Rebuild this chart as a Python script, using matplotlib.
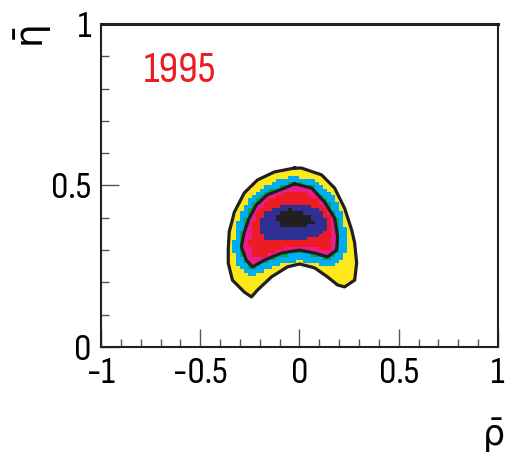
import numpy as np
from matplotlib import pyplot as plt
from matplotlib.path import Path
from matplotlib.colors import ListedColormap
from matplotlib.ticker import MultipleLocator

# contour regions of the (rho, eta) likelihood, outer to inner
yellow_rho = [-0.025, -0.126, -0.212, -0.278, -0.328, -0.354, -0.359, -0.359, -0.338, -0.278, -0.242,
              -0.212, -0.141, -0.061, 0.000, 0.076, 0.141, 0.192, 0.227, 0.278, 0.288, 0.278, 0.263,
              0.227, 0.177, 0.111, 0.010]
yellow_eta = [0.554, 0.542, 0.517, 0.477, 0.418, 0.356, 0.300, 0.260, 0.207, 0.170, 0.155,
              0.176, 0.217, 0.248, 0.257, 0.245, 0.217, 0.192, 0.186, 0.207, 0.260, 0.322, 0.362,
              0.430, 0.492, 0.533, 0.554]

cyan_rho = [-0.025, -0.091, -0.192, -0.257, -0.298, -0.323, -0.338, -0.313, -0.258, -0.172, -0.086,
            0.000, 0.081, 0.152, 0.227, 0.237, 0.222, 0.165, 0.080]
cyan_eta = [0.530, 0.520, 0.494, 0.460, 0.412, 0.359, 0.305, 0.252, 0.218, 0.238, 0.258,
            0.268, 0.258, 0.246, 0.275, 0.341, 0.412, 0.472, 0.515]

green_rho = [-0.025, -0.081, -0.172, -0.232, -0.268, -0.293, -0.308, -0.283, -0.242, -0.177, -0.091,
             0.000, 0.081, 0.146, 0.202, 0.207, 0.192, 0.141, 0.066]
green_eta = [0.514, 0.502, 0.480, 0.449, 0.406, 0.359, 0.310, 0.263, 0.238, 0.260, 0.282,
             0.291, 0.282, 0.269, 0.294, 0.341, 0.402, 0.455, 0.498]

magenta_rho = [-0.025, -0.076, -0.162, -0.217, -0.253, -0.278, -0.293, -0.268, -0.237, -0.177, -0.091,
               0.000, 0.076, 0.141, 0.187, 0.192, 0.177, 0.126, 0.061]
magenta_eta = [0.505, 0.492, 0.471, 0.440, 0.399, 0.356, 0.310, 0.269, 0.248, 0.269, 0.291,
               0.300, 0.291, 0.279, 0.300, 0.341, 0.399, 0.449, 0.492]

red_rho = [-0.051, -0.152, -0.212, -0.242, -0.253, -0.227, -0.162, -0.076, 0.000, 0.091, 0.152,
           0.167, 0.152, 0.101, 0.025]
red_eta = [0.480, 0.458, 0.420, 0.368, 0.316, 0.276, 0.282, 0.307, 0.313, 0.307, 0.300,
           0.347, 0.409, 0.452, 0.477]

blue_rho = [-0.177, -0.116, 0.000, 0.101, 0.146, 0.121, 0.000, -0.101, -0.177, -0.207]
blue_eta = [0.415, 0.433, 0.443, 0.427, 0.387, 0.347, 0.331, 0.325, 0.331, 0.372]

core_rho = [-0.121, -0.051, 0.000, 0.061, 0.076, 0.035, -0.035, -0.091, -0.121]
core_eta = [0.412, 0.427, 0.418, 0.406, 0.387, 0.372, 0.368, 0.372, 0.393]

regions = [(yellow_rho, yellow_eta), (cyan_rho, cyan_eta), (green_rho, green_eta),
           (magenta_rho, magenta_eta), (red_rho, red_eta), (blue_rho, blue_eta),
           (core_rho, core_eta)]
colors = ['#FFE81A', '#00AEEF', '#00A651', '#EC1C8C', '#ED1C24', '#2E3192', '#231F20']

# fill a 100x100 histogram grid from the regions
rho_edges = np.linspace(-1, 1, 101)
eta_edges = np.linspace(0, 1, 101)
RR, EE = np.meshgrid((rho_edges[:-1] + rho_edges[1:]) / 2, (eta_edges[:-1] + eta_edges[1:]) / 2)
pts = np.column_stack([RR.ravel(), EE.ravel()])
level = np.zeros(RR.shape)
for i, (r, e) in enumerate(regions, start=1):
    inside = Path(np.column_stack([r, e])).contains_points(pts).reshape(RR.shape)
    level[inside] = i

plt.rcParams['font.family'] = ['Sofia Sans Condensed', 'DejaVu Sans']
plt.rcParams['mathtext.fontset'] = 'dejavusans'

fig = plt.figure(figsize=(5.08, 4.58), dpi=100)
ax = fig.add_axes([0.1988, 0.2424, 0.7815, 0.7052])

ax.pcolormesh(rho_edges, eta_edges, np.ma.masked_equal(level, 0),
              cmap=ListedColormap(colors), vmin=0.5, vmax=7.5)

for r, e in [(yellow_rho, yellow_eta), (magenta_rho, magenta_eta)]:
    ax.plot(r + r[:1], e + e[:1], color='#231F20', lw=2.3)

ax.set_xlim(-1, 1)
ax.set_ylim(0, 1)
ax.xaxis.set_minor_locator(MultipleLocator(0.1))
ax.yaxis.set_minor_locator(MultipleLocator(0.1))
ax.set_xticks([-1, -0.5, 0, 0.5, 1])
ax.set_xticklabels(['-1', '-0.5', '0', '0.5', '1'])
ax.set_yticks([0, 0.5, 1])
ax.set_yticklabels(['0', '0.5', '1'])
ax.tick_params(which='both', direction='in', top=False, right=False, labelsize=28,
               color='#555555', width=1)
ax.tick_params(which='major', length=13, pad=7)
ax.tick_params(which='minor', length=6)
for s in ax.spines.values():
    s.set_linewidth(1.5)
    s.set_color('#231F20')
ax.spines['top'].set_linewidth(2.2)

ax.text(0.2, 0.855, '1995', transform=ax.transAxes, color='#ED1C24', fontsize=32,
        ha='center', va='center')
fig.text(493 / 508, 1 - 436 / 458, r'$\bar{\mathrm{\rho}}$', ha='center', va='center', fontsize=25)
fig.text(33 / 508, 1 - 37 / 458, r'$\bar{\mathrm{\eta}}$', ha='center', va='center', fontsize=27,
         rotation=90)

fig.savefig('out.png', dpi=100)
